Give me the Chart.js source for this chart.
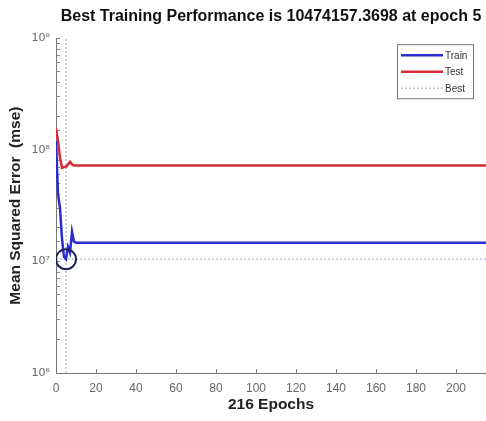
<!DOCTYPE html>
<html>
<head>
<meta charset="utf-8">
<script src="https://cdn.jsdelivr.net/npm/chart.js@4"></script>
<style>
  html, body { margin: 0; padding: 0; background: #fff; }
  #wrap { width: 486px; height: 421px; }
</style>
</head>
<body>
<div id="wrap"><canvas id="perf" width="486" height="421"></canvas></div>
<script>
// values
const trainEpochs = [0, 1, 2, 3, 4, 5, 6, 7, 8, 9, 10, 215];
const trainMse = [1.2e8, 4.0e7, 3.0e7, 1.6e7, 1.1e7, 1.047e7, 1.35e7, 1.2e7, 1.85e7, 1.5e7, 1.47e7, 1.47e7];
const testEpochs = [0, 1, 2, 3, 4, 5, 6, 7, 8, 9, 215];
const testMse = [1.55e8, 1.2e8, 8.5e7, 6.9e7, 7.0e7, 7.05e7, 7.4e7, 7.8e7, 7.4e7, 7.25e7, 7.25e7];
const bestEpoch = 5;
const bestMse = 10474157.3698;
const lastEpoch = 215;
const yTickPowers = [6, 7, 8, 9];
const xTicks = [0, 20, 40, 60, 80, 100, 120, 140, 160, 180, 200];

const SUP = { '6': '\u2076', '7': '\u2077', '8': '\u2078', '9': '\u2079' };
const FONT = '"Liberation Sans", Arial, sans-serif';

function pairs(xs, ys) {
  return xs.map((x, i) => ({ x: x, y: ys[i] }));
}

// "Best" guide: horizontal at best mse, vertical at best epoch (null = gap)
const bestLine = [
  { x: 0, y: bestMse }, { x: lastEpoch, y: bestMse },
  { x: bestEpoch, y: null },
  { x: bestEpoch, y: Math.pow(10, yTickPowers[0]) },
  { x: bestEpoch, y: Math.pow(10, yTickPowers[yTickPowers.length - 1]) }
];

// legend drawn inside the axes, top right, like the MATLAB one
const boxLegend = {
  id: 'boxLegend',
  afterDraw(chart) {
    const ctx = chart.ctx;
    const area = chart.chartArea;
    const items = chart.data.datasets.filter((d) => d.inLegend);
    const w = 76, h = 54;
    const x0 = area.right - 89, y0 = area.top + 6;
    ctx.save();
    ctx.fillStyle = '#fff';
    ctx.fillRect(x0, y0, w, h);
    ctx.strokeStyle = '#777';
    ctx.lineWidth = 1;
    ctx.strokeRect(x0 + 0.5, y0 + 0.5, w, h);
    ctx.font = '10px ' + FONT;
    ctx.textBaseline = 'middle';
    items.forEach((d, i) => {
      const yy = y0 + 11 + i * 16.5;
      ctx.strokeStyle = d.borderColor;
      ctx.lineWidth = d.borderWidth;
      ctx.setLineDash(d.borderDash || []);
      ctx.beginPath();
      ctx.moveTo(x0 + 4, yy);
      ctx.lineTo(x0 + 46, yy);
      ctx.stroke();
      ctx.setLineDash([]);
      ctx.fillStyle = '#333';
      ctx.fillText(d.label, x0 + 48, yy + 1);
    });
    ctx.restore();
  }
};

new Chart(document.getElementById('perf'), {
  type: 'line',
  data: {
    datasets: [
      {
        label: 'Train',
        inLegend: true,
        data: pairs(trainEpochs, trainMse),
        borderColor: '#2a2ccf',
        borderWidth: 2.5,
        pointRadius: 0,
        tension: 0,
        order: 2
      },
      {
        label: 'Test',
        inLegend: true,
        data: pairs(testEpochs, testMse),
        borderColor: '#d62c36',
        borderWidth: 2.5,
        pointRadius: 0,
        tension: 0,
        order: 3
      },
      {
        label: 'Best',
        inLegend: true,
        data: bestLine,
        borderColor: '#a3a8c0',
        borderWidth: 1,
        borderDash: [2, 2],
        pointRadius: 0,
        spanGaps: false,
        order: 4
      },
      {
        label: 'best point',
        data: [{ x: bestEpoch, y: bestMse }],
        showLine: false,
        pointRadius: 10,
        pointBorderWidth: 2,
        pointBorderColor: '#1c2450',
        pointBackgroundColor: 'rgba(0,0,0,0)',
        order: 1
      }
    ]
  },
  options: {
    responsive: false,
    animation: false,
    layout: { padding: 0, autoPadding: false },
    plugins: {
      legend: { display: false },
      tooltip: { enabled: false },
      title: {
        display: true,
        fullSize: false,
        text: 'Best Training Performance is ' + bestMse.toFixed(4) + ' at epoch ' + bestEpoch,
        color: '#111',
        font: { family: FONT, size: 16, weight: 'bold' },
        padding: { top: 7, bottom: 12 }
      }
    },
    scales: {
      x: {
        type: 'linear',
        min: 0,
        max: lastEpoch,
        afterFit: (s) => { s.height = 48; s.paddingRight = 0; s.paddingLeft = 0; },
        afterBuildTicks: (s) => { s.ticks = xTicks.map((v) => ({ value: v })); },
        ticks: {
          autoSkip: false,
          color: '#666',
          font: { family: FONT, size: 12 },
          padding: 12,
          maxRotation: 0
        },
        grid: { drawOnChartArea: false, tickLength: -4, color: '#777' },
        border: { color: '#777', width: 1 },
        title: {
          display: true,
          text: (trainEpochs[trainEpochs.length - 1] + 1) + ' Epochs',
          color: '#222',
          font: { family: FONT, size: 15.5, weight: 'bold' },
          padding: { top: 2, bottom: 7 }
        }
      },
      y: {
        type: 'logarithmic',
        min: Math.pow(10, yTickPowers[0]),
        max: Math.pow(10, yTickPowers[yTickPowers.length - 1]),
        afterFit: (s) => { s.width = 56; },
        ticks: {
          autoSkip: false,
          color: '#666',
          font: { family: '"DejaVu Sans", sans-serif', size: 11 },
          padding: 10,
          callback: (v) => {
            const p = Math.log10(v);
            return Math.abs(p - Math.round(p)) < 1e-9 ? '10' + SUP[String(Math.round(p))] : '';
          }
        },
        grid: { drawOnChartArea: false, tickLength: -4, color: '#888' },
        border: { color: '#777', width: 1 },
        title: {
          display: true,
          text: 'Mean Squared Error  (mse)',
          color: '#222',
          font: { family: FONT, size: 15.5, weight: 'bold' },
          padding: { top: 6, bottom: 4 }
        }
      }
    }
  },
  plugins: [boxLegend]
});
</script>
</body>
</html>
